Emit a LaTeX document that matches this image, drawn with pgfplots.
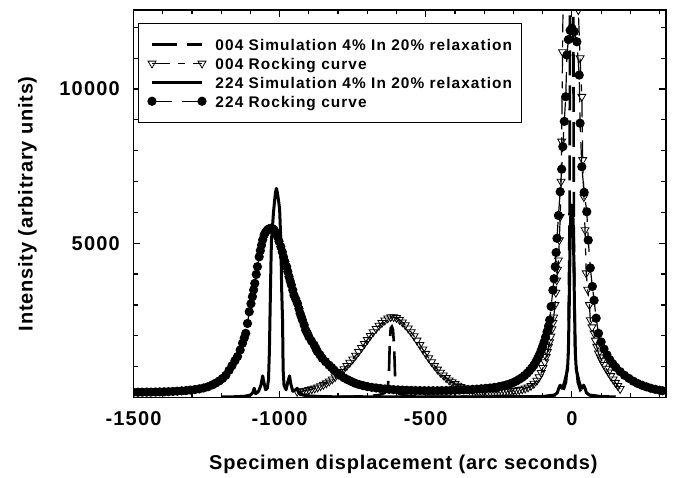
\documentclass[border=0pt]{standalone}
\usepackage{pgfplots}
\pgfplotsset{compat=1.18}
\usepackage{fontspec}
\setmainfont{Liberation Sans}
\newfontfamily\tickfont[LetterSpace=6]{Liberation Sans}
\newfontfamily\labfont[LetterSpace=4]{Liberation Sans}
\newfontfamily\legfont[LetterSpace=7]{Liberation Sans}
\begin{document}
\begin{tikzpicture}
\begin{axis}[
  scale only axis, width=532.2pt, height=387.5pt,
  xmin=-1500, xmax=321, ymin=0, ymax=12560,
  xtick={-1500,-1000,-500,0}, xticklabels={-1500,-1000,-500,0},
  minor xtick={-1400,-1300,-1200,-1100,-900,-800,-700,-600,-400,-300,-200,-100,100,200,300},
  ytick={5000,10000}, yticklabels={5000,10000},
  minor ytick={1000,2000,3000,4000,6000,7000,8000,9000,11000,12000},
  tick align=inside,
  major tick length=7pt, minor tick length=4.5pt,
  tick style={line width=1.2pt, black},
  axis line style={line width=1.6pt},
  xticklabel style={font=\fontsize{20}{22}\tickfont\bfseries, inner sep=0pt, anchor=north, yshift=-14.2pt},
  yticklabel style={font=\fontsize{20}{22}\tickfont\bfseries, inner sep=0pt, anchor=east, xshift=-13.5pt},
  xlabel={Specimen displacement (arc seconds)},
  ylabel={Intensity (arbitrary units)},
  xlabel style={font=\fontsize{20}{22}\labfont\bfseries, at={(axis description cs:0.507,-0.1858)}, anchor=base, inner sep=0pt},
  ylabel style={font=\fontsize{20}{22}\labfont\bfseries, at={(axis description cs:-0.1896,0.5)}, anchor=base, inner sep=0pt},
  clip marker paths=true,
  legend cell align=left,
  legend image code/.code={\draw[#1] plot coordinates {(0pt,0pt) (50pt,0pt)};},
  legend style={at={(axis description cs:0.00846,0.966)}, anchor=north west,
    draw=black, line width=1pt, fill=white, inner xsep=9.5pt, inner ysep=11.4pt,
    row sep=0pt, column sep=9.5pt,
    font=\fontsize{15.4}{17}\legfont\bfseries,
    nodes={inner sep=0pt, text height=15.7pt, text depth=3.2pt}},
]
% 004 simulation
\addplot[black, line width=2.6pt, dash pattern=on 25pt off 10pt] coordinates {
(-800,20)(-700,40)(-660,80)(-640,150)(-630,300)(-626,800)(-623,1800)(-620,2250)(-616,2300)(-612,2200)(-608,1600)(-605,700)(-600,250)(-590,120)(-570,60)(-500,30)(-300,20)(-100,30)(-50,80)(-30,200)(-20,500)(-12,1500)(-8,6000)(-5,18000)(-2,25000)(1,24000)(4,16000)(7,5000)(11,1500)(20,500)(30,200)(50,80)(100,30)
};
\addlegendentry{004 Simulation 4\% In 20\% relaxation}
% 004 rocking curve
\addplot[black, line width=1.2pt, dash pattern=on 18pt off 8pt on 7pt off 8pt,
  mark=triangle, mark size=4.6pt, mark options={solid, rotate=180, line width=0.8pt}] coordinates {
(-940,190)(-930,200)(-920,212)(-910,228)(-900,248)(-890,270)(-880,298)(-870,330)(-860,370)(-850,415)(-840,465)(-830,525)(-820,590)(-810,665)(-800,745)(-790,830)(-780,925)(-770,1025)(-760,1130)(-750,1240)(-740,1360)(-730,1480)(-720,1610)(-710,1740)(-700,1870)(-690,2000)(-680,2120)(-670,2230)(-660,2330)(-650,2420)(-640,2500)(-630,2570)(-620,2610)(-610,2610)(-600,2580)(-590,2520)(-580,2440)(-570,2350)(-560,2240)(-550,2120)(-540,1990)(-530,1850)(-520,1710)(-510,1560)(-500,1420)(-490,1280)(-480,1150)(-470,1030)(-460,910)(-450,810)(-440,720)(-430,635)(-420,560)(-410,500)(-400,440)(-390,390)(-380,345)(-370,305)(-360,275)(-350,250)(-340,230)(-330,215)(-320,203)(-310,194)(-300,188)(-290,184)(-280,182)(-270,182)(-260,184)(-250,187)(-240,191)(-230,196)(-220,203)(-210,211)(-200,221)(-190,233)(-180,249)(-170,269)(-160,296)(-150,331)(-140,380)(-130,450)(-120,550)(-112,660)(-105,800)(-99,960)(-93,1150)(-88,1320)(-84,1480)(-80,1650)(-76,1800)(-72,1980)(-68,2220)(-65,2420)(-62,2600)(-58,3000)(-55,3400)(-52,3800)(-49,4150)(-46,4450)(-43,5100)(-40,5860)(-37,7000)(-35,8300)(-32,11200)(-27,15500)(-20,23000)(-12,30000)(-4,34000)(4,33000)(12,27000)(18,19000)(22,12560)(28,11000)(34,9750)(37,7700)(41,6500)(45,5430)(49,4030)(54,3500)(60,3000)(63,2510)(69,2280)(76,2080)(80,1850)(85,1650)(91,1430)(97,1300)(103,1180)(110,1060)(117,940)(125,820)(133,700)(141,590)(149,480)(157,380)(165,280)
};
\addlegendentry{004 Rocking curve}
% 224 simulation
\addplot[black, line width=3pt, line join=round] coordinates {
(-1200,20)(-1150,25)(-1120,40)(-1100,80)(-1092,150)(-1087,300)(-1082,120)(-1072,200)(-1064,400)(-1058,700)(-1054,500)(-1048,250)(-1042,300)(-1038,600)(-1035,1500)(-1033,2600)(-1030,4200)(-1028,5100)(-1024,5600)(-1021,6000)(-1017,6400)(-1014,6650)(-1011,6780)(-1008,6650)(-1004,6400)(-1000,6100)(-996,5100)(-993,3500)(-990,2500)(-988,900)(-985,400)(-978,250)(-972,500)(-966,700)(-962,450)(-955,200)(-945,250)(-940,300)(-935,150)(-920,80)(-900,50)(-850,30)(-800,20)(-400,20)(-100,30)(-60,80)(-50,150)(-45,300)(-40,400)(-35,300)(-30,350)(-25,500)(-20,700)(-15,900)(-12,1500)(-9,3000)(-7,4500)(-5,5600)(-3,6100)(-1,6240)(1,6200)(3,6000)(5,5500)(7,4200)(9,2800)(12,1400)(15,900)(20,700)(25,500)(30,350)(35,300)(40,400)(45,300)(50,150)(60,80)(100,30)(150,20)
};
\addlegendentry{224 Simulation 4\% In 20\% relaxation}
% 224 rocking curve
\addplot[black, line width=1.2pt, dash pattern=on 20pt off 10pt,
  mark=*, mark size=4pt, mark options={solid}] coordinates {
(-1500,170)(-1485,170)(-1470,172)(-1455,175)(-1440,175)(-1425,178)(-1410,182)(-1395,185)(-1380,190)(-1365,197)(-1350,205)(-1335,215)(-1320,225)(-1305,240)(-1290,258)(-1275,280)(-1260,310)(-1245,350)(-1230,410)(-1218,470)(-1206,540)(-1195,620)(-1184,720)(-1173,880)(-1163,1030)(-1153,1190)(-1144,1330)(-1135,1540)(-1127,1760)(-1121,1930)(-1116,2080)(-1110,2400)(-1104,2780)(-1098,3040)(-1093,3270)(-1089,3490)(-1085,3700)(-1080,3990)(-1076,4240)(-1070,4560)(-1066,4760)(-1062,4940)(-1058,5110)(-1053,5270)(-1048,5360)(-1042,5430)(-1036,5470)(-1030,5485)(-1024,5470)(-1019,5430)(-1013,5340)(-1007,5210)(-1002,5060)(-996,4890)(-991,4720)(-987,4560)(-982,4400)(-976,4240)(-972,4080)(-968,3920)(-964,3780)(-960,3650)(-955,3480)(-951,3320)(-945,3190)(-939,3050)(-934,2880)(-930,2730)(-926,2620)(-922,2510)(-916,2350)(-911,2190)(-905,2080)(-900,1970)(-891,1830)(-882,1700)(-876,1590)(-871,1490)(-862,1380)(-854,1270)(-843,1160)(-831,1050)(-822,970)(-814,890)(-803,800)(-792,720)(-780,640)(-768,580)(-755,520)(-742,465)(-728,420)(-714,385)(-700,355)(-685,330)(-670,310)(-655,292)(-640,278)(-625,265)(-610,255)(-595,247)(-580,240)(-565,235)(-550,230)(-535,226)(-520,223)(-505,221)(-490,220)(-475,220)(-460,221)(-445,223)(-430,226)(-415,230)(-400,235)(-385,240)(-370,247)(-355,255)(-340,263)(-325,272)(-310,283)(-295,296)(-280,310)(-265,328)(-250,350)(-237,375)(-225,405)(-213,440)(-202,480)(-191,530)(-181,585)(-171,645)(-162,710)(-153,790)(-145,870)(-137,960)(-130,1050)(-123,1160)(-117,1270)(-111,1390)(-105,1530)(-100,1660)(-95,1800)(-90,1960)(-85,2130)(-80,2310)(-76,2510)(-71,2950)(-65,3480)(-61,3850)(-57,4240)(-54,4700)(-51,5160)(-46,5900)(-40,6670)(-35,7400)(-31,8130)(-26,8950)(-21,9750)(-17,11100)(-12,11600)(-6,11900)(0,11970)(8,11860)(17,11530)(25,10450)(28,8890)(34,7480)(42,6650)(51,6020)(56,5100)(63,4200)(70,3600)(76,3150)(83,2570)(91,2080)(100,1800)(110,1570)(120,1380)(130,1220)(140,1090)(150,980)(165,840)(180,720)(195,620)(210,530)(225,455)(240,395)(255,345)(270,300)(285,265)(300,235)(310,220)
};
\addlegendentry{224 Rocking curve}
\end{axis}
\pgfresetboundingbox
\useasboundingbox ([shift={(-133.5pt,-79.5pt)}]current axis.south west) rectangle ([shift={(11.3pt,10pt)}]current axis.north east);
\end{tikzpicture}
\end{document}
